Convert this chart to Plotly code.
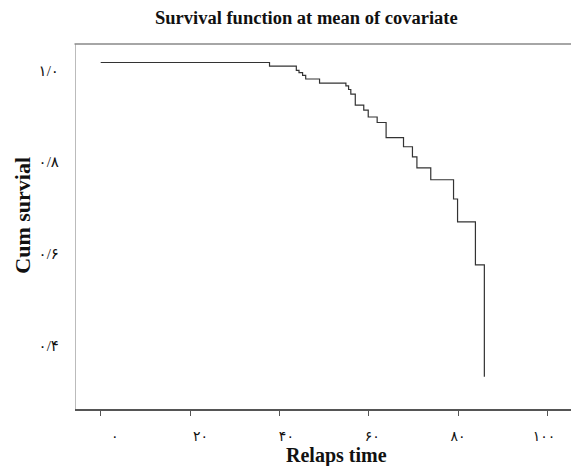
import plotly.graph_objects as go

# Step times (Relaps time) and cumulative survival values
times = [0, 37.8, 43.8, 44.4, 45.2, 45.9, 49.0, 54.9, 55.5, 56.0, 57.0, 58.9,
         59.9, 61.9, 63.9, 67.8, 69.8, 70.8, 73.9, 79.0, 79.9, 83.9, 85.9]
surv = [1.0, 0.992, 0.983, 0.978, 0.972, 0.964, 0.955, 0.949, 0.941, 0.931,
        0.907, 0.896, 0.881, 0.869, 0.836, 0.816, 0.794, 0.770, 0.744, 0.702,
        0.652, 0.558, 0.314]

x_tickvals = [0, 20, 40, 60, 80, 100]
x_ticktext = ["۰", "۲۰", "۴۰", "۶۰", "۸۰", "۱۰۰"]
y_tickvals = [0.4, 0.6, 0.8, 1.0]
y_ticktext = ["۰/۴", "۰/۶", "۰/۸", "۱/۰"]

title_text = "Survival function at mean of covariate"
x_title = "Relaps time"
y_title = "Cum survial"

SERIF = "Times New Roman, Liberation Serif, DejaVu Serif, serif"
LABEL_FONT = "Times New Roman, Liberation Serif, DejaVu Sans, serif"

fig = go.Figure()
fig.add_trace(go.Scatter(
    x=times, y=surv, mode="lines", line=dict(color="#333333", width=1.2, shape="hv"),
    showlegend=False, hoverinfo="skip"))
# carrier trace for the label axis
fig.add_trace(go.Scatter(x=[], y=[], xaxis="x2", showlegend=False, hoverinfo="skip"))

fig.update_layout(
    width=571, height=466,
    margin=dict(l=76, r=0, t=44, b=57),
    paper_bgcolor="white", plot_bgcolor="white",
    xaxis=dict(
        range=[-5.53, 105.3], tickvals=x_tickvals, showticklabels=False,
        ticks="outside", ticklen=5, tickcolor="#555555", tickwidth=1.2,
        showline=True, linecolor="#555555", linewidth=1.5,
        showgrid=False, zeroline=False),
    xaxis2=dict(
        overlaying="x", anchor="y", side="bottom",
        range=[-9.01, 106.3], tickvals=x_tickvals, ticktext=x_ticktext,
        ticks="", showline=False, showgrid=False, zeroline=False,
        ticklabelstandoff=17,
        tickfont=dict(family=LABEL_FONT, size=14, color="#111111")),
    yaxis=dict(
        range=[0.2434, 1.0404], tickvals=y_tickvals, ticktext=y_ticktext,
        ticks="", showline=True, linecolor="#bbbbbb", linewidth=1.2,
        showgrid=False, zeroline=False,
        ticklabelshift=8, ticklabelstandoff=13,
        tickfont=dict(family=LABEL_FONT, size=15, color="#111111")),
    shapes=[dict(type="line", xref="paper", yref="paper", x0=-0.003, x1=1, y0=1, y1=1,
                 line=dict(color="#888888", width=1.6))],
    annotations=[
        dict(text="<b>" + title_text + "</b>", xref="paper", yref="paper",
             x=(306 - 76) / 495, y=(409 - 18) / 365, showarrow=False,
             xanchor="center", yanchor="middle",
             font=dict(family=SERIF, size=18.5, color="#111111")),
        dict(text="<b>" + x_title + "</b>", xref="paper", yref="paper",
             x=(336 - 76) / 495, y=(409 - 455) / 365, showarrow=False,
             xanchor="center", yanchor="middle",
             font=dict(family=SERIF, size=20, color="#111111")),
        dict(text="<b>" + y_title + "</b>", xref="paper", yref="paper",
             x=(21.7 - 76) / 495, y=(409 - 215) / 365, showarrow=False,
             xanchor="center", yanchor="middle", textangle=-90,
             font=dict(family=SERIF, size=22, color="#111111")),
    ],
)

fig.write_html("out.html")
